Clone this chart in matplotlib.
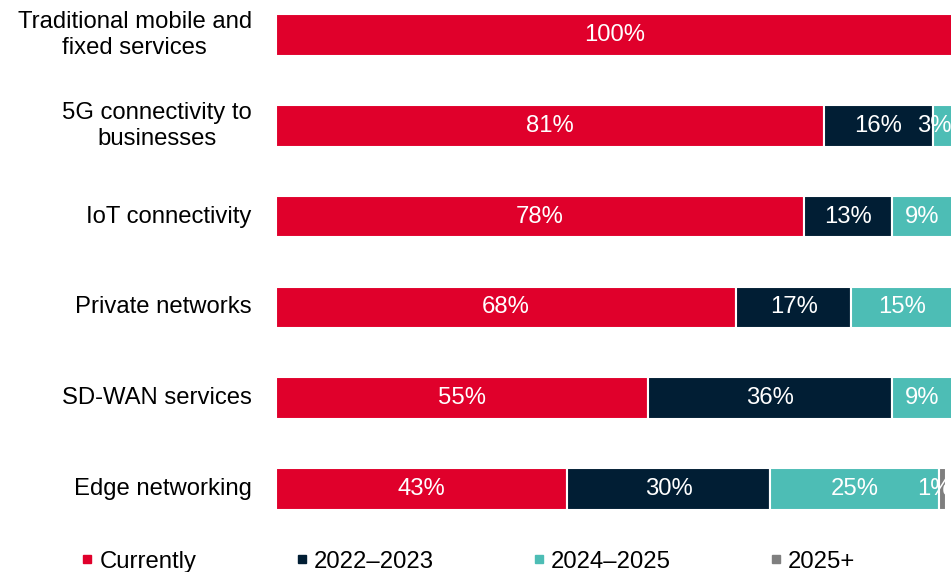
import matplotlib.pyplot as plt
from matplotlib.lines import Line2D

plt.rcParams['font.family'] = ['Liberation Sans', 'DejaVu Sans']

# Adoption timeline by service (share of respondents, %)
categories = [
    'Traditional mobile and\nfixed services',
    '5G connectivity to\nbusinesses',
    'IoT connectivity',
    'Private networks',
    'SD-WAN services',
    'Edge networking',
]
series_names = ['Currently', '2022\u20132023', '2024\u20132025', '2025+']
currently = [100, 81, 78, 68, 55, 43]
y2022_2023 = [0, 16, 13, 17, 36, 30]
y2024_2025 = [0, 3, 9, 15, 9, 25]
y2025_plus = [0, 0, 0, 0, 0, 1]

colors = ['#E0002B', '#011E34', '#4DBDB5', '#7F7F7F']
FS = 17.2

W, H = 951, 572
fig = plt.figure(figsize=(W / 100, H / 100), dpi=100)
ax = fig.add_axes([276 / W, 62 / H, 677 / W, 510 / H])

series = [currently, y2022_2023, y2024_2025, y2025_plus]
y = list(range(len(categories)))
left = [0] * len(categories)
for vals, color in zip(series, colors):
    ax.barh(y, vals, left=left, height=0.46, color=color,
            edgecolor='white', linewidth=1.5)
    for i, v in enumerate(vals):
        if v > 0:
            # keep labels of thin end segments from running off the edge
            xc = min(left[i] + v / 2, 97.3)
            ax.text(xc, i, f'{v}%', ha='center', va='center',
                    color='white', fontsize=FS)
    left = [a + b for a, b in zip(left, vals)]

ax.set_xlim(0, 100)
ax.set_ylim(5.231, -0.385)
ax.axis('off')

for i, cat in enumerate(categories):
    ax.text(-3.6, i, cat, ha='right', va='center',
            multialignment='center', fontsize=FS, color='black',
            linespacing=1.25)

handles = [Line2D([], [], marker='s', linestyle='none', color=c, markersize=5.5)
           for c in colors]
fig.legend(handles, series_names, loc='lower left', bbox_to_anchor=(54 / W, -0.039),
           ncol=4, frameon=False, fontsize=FS, handletextpad=0.0,
           columnspacing=3.9, handlelength=1.0)

fig.savefig('out.png', dpi=100)
